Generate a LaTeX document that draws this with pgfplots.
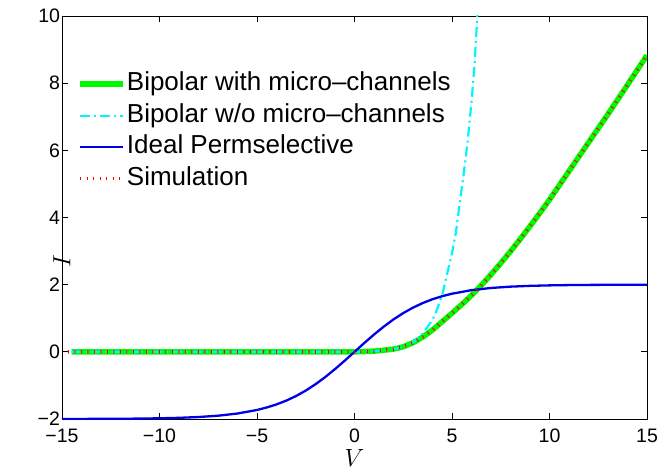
\documentclass[border=0pt]{standalone}
\usepackage{fontspec}
\setmainfont{Liberation Sans}
\usepackage{pgfplots}
\pgfplotsset{compat=1.18}

\begin{document}
\begin{tikzpicture}
\begin{axis}[
  scale only axis,
  width=585pt, height=403pt,
  xmin=-15, xmax=15,
  ymin=-2, ymax=10,
  xtick={-15,-10,-5,0,5,10,15},
  xticklabels={−15,−10,−5,0,5,10,15},
  ytick={-2,0,2,4,6,8,10},
  yticklabels={−2,0,2,4,6,8,10},
  axis line style={line width=0.9pt},
  major tick style={line width=0.8pt, black},
  major tick length=6pt,
  tick align=inside,
  xticklabel style={font=\fontsize{19.5}{22}\selectfont, anchor=center, inner sep=0pt, yshift=-17pt},
  yticklabel style={font=\fontsize{19.5}{22}\selectfont, anchor=east, xshift=1.5pt},
  xlabel={$V$},
  ylabel={$I$},
  xlabel style={font=\fontsize{25}{27}\selectfont, at={(axis description cs:0.5,0)}, anchor=center, inner sep=0pt, yshift=-39pt},
  ylabel style={font=\fontsize{25}{27}\selectfont, at={(axis description cs:0,0.5)}, anchor=center, xshift=-44pt},
  legend cell align=left,
  legend style={
    at={(rel axis cs:0.026,0.865)}, anchor=north west,
    draw=none, fill=none,
    font=\fontsize{26}{28}\selectfont,
    inner sep=0pt,
    row sep=4.5pt,
    nodes={inner sep=1pt, text height=19pt, text depth=6pt},
  },
  legend image code/.code={\draw[#1] (0pt,0pt) -- (43pt,0pt);},
]
% Bipolar with micro-channels
\addplot[color={rgb,255:red,0;green,250;blue,0}, line width=5.5pt]
  coordinates{(-14.5,0)(-12,0)(-10,0)(-8,0)(-6,0)(-4,0)(-2,0)(-1,0.0)(0,0.0)
    (1,0.02)(2,0.08)(2.5,0.15)(3,0.27)(3.5,0.44)(4,0.65)(4.5,0.90)(5,1.15)
    (5.5,1.41)(6,1.68)(6.5,1.98)(7,2.30)(7.5,2.64)(8,2.99)(8.5,3.36)(9,3.74)
    (9.5,4.13)(10,4.53)(11,5.38)(12,6.23)(13,7.08)(14,7.95)(15,8.83)};
\addlegendentry{Bipolar with micro--channels}
% Bipolar w/o micro-channels
\addplot[color={rgb,255:red,0;green,245;blue,255}, line width=2.2pt,
  dash pattern=on 10pt off 4pt on 2pt off 4pt]
  coordinates{(-14.5,0)(-12,0)(-10,0)(-8,0)(-6,0)(-4,0)(-2,0)(-1,0.0)(0,0.0)
    (1,0.02)(2,0.08)(2.5,0.14)(3,0.28)(3.5,0.55)(4,0.95)(4.22,1.24)(4.5,1.70)
    (4.64,2.04)(5,2.95)(5.2,3.55)(5.4,4.45)(5.6,5.30)(5.8,6.25)(6.0,7.45)
    (6.15,8.50)(6.3,10.0)(6.35,10.4)};
\addlegendentry{Bipolar w/o micro--channels}
% Ideal Permselective
\addplot[color={rgb,255:red,0;green,0;blue,230}, line width=2.3pt]
  coordinates{(-15,-1.9985)(-14,-1.9975)(-13,-1.9958)(-12,-1.9928)(-11,-1.9878)
    (-10,-1.979)(-9,-1.965)(-8,-1.941)(-7,-1.902)(-6,-1.837)(-5,-1.731)
    (-4.5,-1.657)(-4,-1.566)(-3.5,-1.453)(-3,-1.316)(-2.5,-1.154)(-2,-0.965)
    (-1.5,-0.751)(-1,-0.514)(-0.5,-0.262)(0,0)(0.5,0.262)(1,0.514)(1.5,0.751)
    (2,0.965)(2.5,1.154)(3,1.316)(3.5,1.453)(4,1.566)(4.5,1.657)(5,1.731)
    (6,1.837)(7,1.902)(8,1.941)(9,1.965)(10,1.979)(11,1.9878)(12,1.9928)
    (13,1.9958)(14,1.9975)(15,1.9985)};
\addlegendentry{Ideal Permselective}
% Simulation
\addplot[color=red, line width=3.5pt, dash pattern=on 1pt off 5.5pt]
  coordinates{(-14.7,0)(-12,0)(-10,0)(-8,0)(-6,0)(-4,0)(-2,0)(-1,0.0)(0,0.0)
    (1,0.02)(2,0.08)(2.5,0.15)(3,0.27)(3.5,0.44)(4,0.65)(4.5,0.90)(5,1.15)
    (5.5,1.41)(6,1.68)(6.5,1.98)(7,2.30)(7.5,2.64)(8,2.99)(8.5,3.36)(9,3.74)
    (9.5,4.13)(10,4.53)(11,5.38)(12,6.23)(13,7.08)(14,7.95)(15,8.83)};
\addlegendentry{Simulation}
\end{axis}
\path (-62pt,-53pt) rectangle (597pt,419pt);
\end{tikzpicture}
\end{document}
